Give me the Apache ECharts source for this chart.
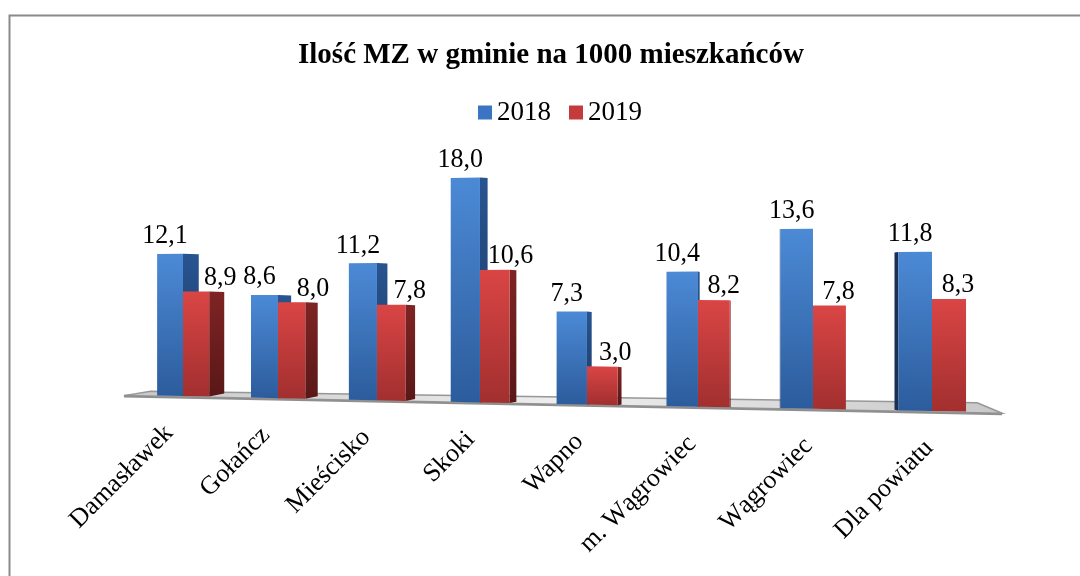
<!DOCTYPE html>
<html>
<head>
<meta charset="utf-8">
<script src="https://cdn.jsdelivr.net/npm/echarts@6/dist/echarts.min.js"></script>
<style>
  html, body { margin: 0; padding: 0; background: #fff; }
  #chart { width: 1080px; height: 576px; }
</style>
</head>
<body>
<div id="chart"></div>
<script>
const categories = ['Damasławek', 'Gołańcz', 'Mieścisko', 'Skoki', 'Wapno', 'm. Wągrowiec', 'Wągrowiec', 'Dla powiatu'];
const values2018 = [12.1, 8.6, 11.2, 18.0, 7.3, 10.4, 13.6, 11.8];
const values2019 = [8.9, 8.0, 7.8, 10.6, 3.0, 8.2, 7.8, 8.3];
const seriesNames = ['2018', '2019'];

const FONT = '"Liberation Serif", "Times New Roman", serif';
const VX = 760;      // where the side faces vanish
const DEPTH = 0.0273;

// fake perspective on top of the flat grid coords
function persp(api, x, y) {
    const a = api.coord([0, 0]);
    const b = api.coord([categories.length - 1, 0]);
    const L = b[0] - a[0];
    const t = (x - a[0]) / L;
    return [
        a[0] + L * (0.869 * t + 0.131 * t * t),
        a[1] + 15 * t - (a[1] - y) * (1 + 0.149 * t)
    ];
}

function grad(c1, c2) {
    return new echarts.graphic.LinearGradient(0, 0, 0, 1, [
        { offset: 0, color: c1 },
        { offset: 1, color: c2 }
    ]);
}

const front = [grad('#4c8ad6', '#2c5c9c'), grad('#da4545', '#a22f2f')];
const side = [grad('#285490', '#1b3a66'), grad('#7e2424', '#5a1717')];

function fmt(v) {
    return v.toFixed(1).replace('.', ',');
}

function renderBar(params, api) {
    const s = params.seriesIndex - 1;
    const i = api.value(0);
    const v = api.value(1);
    const base = api.coord([i, 0]);
    const top = api.coord([i, v]);
    const w = api.size([1, 0])[0] * 0.28;
    const xL = s === 0 ? base[0] - w : base[0];
    const xR = xL + w;
    const bl = persp(api, xL, base[1]);
    const br = persp(api, xR, base[1]);
    const tl = persp(api, xL, top[1]);
    const tr = persp(api, xR, top[1]);

    const children = [];
    const dR = DEPTH * (VX - tr[0]);
    const dL = DEPTH * (VX - tl[0]);
    let d = 0;
    if (dR > 0) {
        d = dR;
        children.push({
            type: 'polygon',
            shape: { points: [tr, [tr[0] + d, tr[1] + 0.5], [br[0] + d, br[1] - 0.2 * d], br] },
            style: { fill: side[s] }
        });
    } else if (s === 0 && dL < 0) {
        children.push({
            type: 'polygon',
            shape: { points: [tl, [tl[0] + dL, tl[1] + 0.5], [bl[0] + dL, bl[1] + 0.2 * dL], bl] },
            style: { fill: '#1a2f52' }
        });
    }
    children.push({
        type: 'polygon',
        shape: { points: [tl, tr, br, bl] },
        style: { fill: front[s] }
    });

    const cx = (tl[0] + tr[0]) / 2;
    const cy = (tl[1] + tr[1]) / 2;
    children.push({
        type: 'text',
        x: s === 0 ? cx - 5 : cx + 9 + d,
        y: s === 0 ? cy - 18 : cy - 14,
        scaleY: 1.08,
        style: {
            text: fmt(v),
            font: '26px ' + FONT,
            fill: '#000',
            align: 'center',
            verticalAlign: 'middle'
        }
    });
    return { type: 'group', children: children };
}

function renderFloor(params, api) {
    const i = api.value(0);
    const a = api.coord([0, 0]);
    const b = api.coord([categories.length - 1, 0]);
    const L = b[0] - a[0];
    const children = [];
    if (i === 0) {
        const fl = persp(api, a[0] - 0.092 * L, a[1]);
        const fr = persp(api, a[0] + 1.082 * L, a[1]);
        const bkl = persp(api, a[0] - 0.05 * L, a[1]);
        const bkr = persp(api, a[0] + 1.053 * L, a[1]);
        children.push({
            type: 'polygon',
            shape: { points: [[bkl[0], bkl[1] - 4], [bkr[0], bkr[1] - 9], [fr[0], fr[1] + 1], [fl[0], fl[1] + 1]] },
            style: {
                fill: new echarts.graphic.LinearGradient(0, 0, 1, 0, [
                    { offset: 0, color: '#c8c8c8' },
                    { offset: 0.5, color: '#eeeeee' },
                    { offset: 1, color: '#c8c8c8' }
                ]),
                stroke: '#979797',
                lineWidth: 1.5
            }
        });
        children.push({
            type: 'polyline',
            shape: { points: [[fl[0], fl[1] + 2], [fr[0], fr[1] + 2]] },
            style: { stroke: '#8f8f8f', lineWidth: 2, fill: null }
        });
    }
    const p = persp(api, api.coord([i, 0])[0], a[1]);
    const t = i / (categories.length - 1);
    children.push({
        type: 'text',
        x: p[0] - 23 + 11 * t,
        y: p[1] + 24,
        rotation: Math.PI / 4,
        style: {
            text: categories[i],
            font: '26px ' + FONT,
            fill: '#000',
            align: 'right',
            verticalAlign: 'top'
        }
    });
    return { type: 'group', children: children };
}

const chart = echarts.init(document.getElementById('chart'));
chart.setOption({
    animation: false,
    backgroundColor: '#fff',
    graphic: [{
        type: 'rect',
        left: 7,
        top: 13,
        shape: { width: 1200, height: 700 },
        style: { fill: null, stroke: '#8a8a8a', lineWidth: 2 },
        z: 0
    }],
    title: {
        text: 'Ilość MZ w gminie na 1000 mieszkańców',
        left: 293,
        top: 36,
        textStyle: { fontFamily: FONT, fontWeight: 'bold', fontSize: 29, color: '#000' }
    },
    legend: {
        data: seriesNames,
        left: 473,
        top: 94,
        itemWidth: 14,
        itemHeight: 14,
        itemGap: 18,
        icon: 'rect',
        textStyle: { fontFamily: FONT, fontSize: 27, color: '#000' }
    },
    grid: { left: 129.5, right: 94.5, top: 161, bottom: 180 },
    xAxis: { type: 'category', data: categories, show: false },
    yAxis: { type: 'value', min: 0, max: 20, show: false },
    series: [
        {
            type: 'custom',
            name: 'floor',
            renderItem: renderFloor,
            data: categories.map((c, i) => [i, 0]),
            encode: { x: 0, y: 1 },
            clip: false,
            z: 1,
            silent: true
        },
        {
            type: 'custom',
            name: seriesNames[0],
            renderItem: renderBar,
            data: values2018.map((v, i) => [i, v]),
            encode: { x: 0, y: 1 },
            itemStyle: { color: '#3a74c2' },
            clip: false,
            z: 2
        },
        {
            type: 'custom',
            name: seriesNames[1],
            renderItem: renderBar,
            data: values2019.map((v, i) => [i, v]),
            encode: { x: 0, y: 1 },
            itemStyle: { color: '#c53b3b' },
            clip: false,
            z: 2
        }
    ]
});
</script>
</body>
</html>
